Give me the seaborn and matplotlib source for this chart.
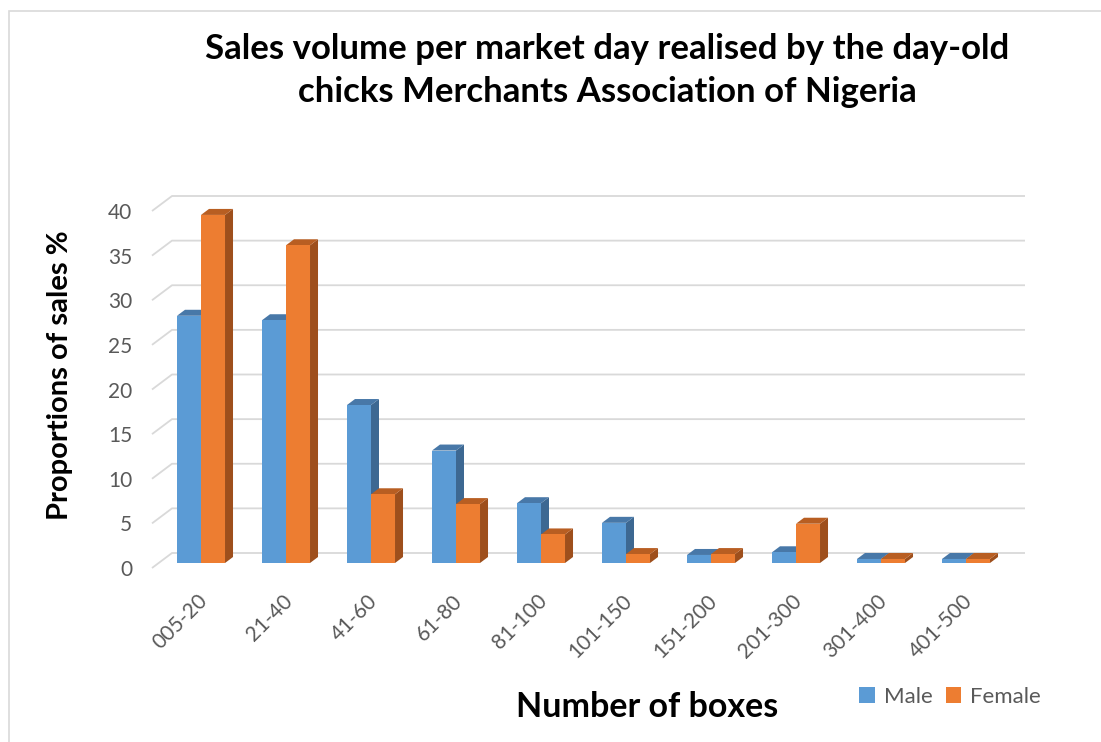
"""Volumen de ventas por dia de mercado (cajas de pollitos), Male vs Female.

Barras con aspecto 3D al estilo Excel: caras frontales con seaborn,
caras laterales/superiores anadidas a partir de los rectangulos del barplot.
"""
import matplotlib
matplotlib.use("Agg")
import matplotlib.pyplot as plt
import matplotlib.transforms as mtransforms
from matplotlib.patches import Polygon, Rectangle
import pandas as pd
import seaborn as sns

CATEGORIAS = ["005-20", "21-40", "41-60", "61-80", "81-100",
              "101-150", "151-200", "201-300", "301-400", "401-500"]
MALE = [27.7, 27.2, 17.7, 12.6, 6.7, 4.5, 0.9, 1.2, 0.45, 0.45]
FEMALE = [39.0, 35.6, 7.7, 6.6, 3.2, 1.0, 1.0, 4.4, 0.45, 0.45]
SERIES = ["Male", "Female"]
Y_TICKS = [0, 5, 10, 15, 20, 25, 30, 35, 40]

TITULO = ("Sales volume per market day realised by the day-old\n"
          "chicks Merchants Association of Nigeria")

COLOR_FRENTE = {"Male": "#5B9BD5", "Female": "#ED7D31"}
COLOR_LADO = {"Male": "#3D6892", "Female": "#9E4F1C"}
COLOR_TECHO = {"Male": "#4878A8", "Female": "#B85E22"}
GRIS_TEXTO = "#595959"
GRIS_REJILLA = "#D9D9D9"

W, H = 1101, 742
# geometria del plano frontal en pixeles
X0_PX, X1_PX = 158.5, 1008.5
Y0_PX, Y40_PX = 563, 206
PX_X = (X1_PX - X0_PX) / len(CATEGORIAS)
PX_Y = (Y0_PX - Y40_PX) / 40.0


def main():
    sns.set_style("white")
    plt.rcParams["font.family"] = ["Lato", "DejaVu Sans"]

    datos = pd.DataFrame({
        "categoria": CATEGORIAS * 2,
        "valor": MALE + FEMALE,
        "sexo": ["Male"] * len(MALE) + ["Female"] * len(FEMALE),
    })

    fig = plt.figure(figsize=(W / 100, H / 100), dpi=100)
    ax = fig.add_axes([X0_PX / W, 1 - Y0_PX / H,
                       (X1_PX - X0_PX) / W, (Y0_PX - Y40_PX) / H])

    sns.barplot(
        data=datos, x="categoria", y="valor", hue="sexo",
        hue_order=SERIES, palette=COLOR_FRENTE, width=0.565,
        saturation=1, errorbar=None, linewidth=0, ax=ax,
    )
    handles, labels = ax.get_legend_handles_labels()
    if ax.get_legend() is not None:
        ax.get_legend().remove()

    ax.set_xlim(-0.5, len(CATEGORIAS) - 0.5)
    ax.set_ylim(0, 40)
    for lado in ax.spines.values():
        lado.set_visible(False)

    # caras 3D de cada barra
    dx = 8 / PX_X
    dy = 6 / PX_Y
    n = len(CATEGORIAS)
    for i, barra in enumerate(ax.patches[:2 * n]):
        serie = SERIES[i // n]
        x, w, h = barra.get_x(), barra.get_width(), barra.get_height()
        barra.set_zorder(3)
        lado = Polygon([(x + w, 0), (x + w + dx, dy),
                        (x + w + dx, h + dy), (x + w, h)],
                       closed=True, fc=COLOR_LADO[serie], ec="none",
                       zorder=2, clip_on=False)
        techo = Polygon([(x, h), (x + w, h), (x + w + dx, h + dy),
                         (x + dx, h + dy)],
                        closed=True, fc=COLOR_TECHO[serie], ec="none",
                        zorder=2, clip_on=False)
        ax.add_patch(lado)
        ax.add_patch(techo)

    # rejilla en el plano trasero con su tramo inclinado
    gx0 = -0.5 + (172 - X0_PX) / PX_X
    gx1 = -0.5 + (1025 - X0_PX) / PX_X
    fx = -0.5 + (152 - X0_PX) / PX_X
    for v in Y_TICKS:
        ax.plot([fx, gx0, gx1], [v - 5 / PX_Y, v + 10 / PX_Y, v + 10 / PX_Y],
                color=GRIS_REJILLA, lw=1.3, zorder=0, clip_on=False,
                solid_capstyle="butt")

    ax.set_yticks(Y_TICKS)
    ax.set_yticklabels([str(v) for v in Y_TICKS])
    ax.tick_params(axis="y", length=0, pad=19, labelsize=15,
                   labelcolor=GRIS_TEXTO)
    desplazamiento = mtransforms.ScaledTranslation(0, -5 / 100,
                                                   fig.dpi_scale_trans)
    for etiqueta in ax.get_yticklabels():
        etiqueta.set_transform(etiqueta.get_transform() + desplazamiento)

    ax.set_xticks(range(n))
    ax.set_xticklabels(CATEGORIAS, rotation=45, ha="right",
                       rotation_mode="anchor")
    ax.tick_params(axis="x", length=0, pad=20, labelsize=15,
                   labelcolor=GRIS_TEXTO)
    desplazamiento_x = mtransforms.ScaledTranslation(-4 / 100, 0,
                                                     fig.dpi_scale_trans)
    for etiqueta in ax.get_xticklabels():
        etiqueta.set_transform(etiqueta.get_transform() + desplazamiento_x)
    ax.set_xlabel("")
    ax.set_ylabel("")

    fig.text(607 / W, 1 - 70.5 / H, TITULO, ha="center", va="center",
             fontsize=25, fontweight="bold", color="black",
             linespacing=1.4)
    fig.text(60 / W, 1 - 375 / H, "Proportions of sales %", rotation=90,
             ha="center", va="center", fontsize=21, fontweight="bold",
             color="black")
    fig.text(647 / W, 1 - 707 / H, "Number of boxes", ha="center",
             va="center", fontsize=24.5, fontweight="bold", color="black")

    fig.legend(handles, labels, loc="center",
               bbox_to_anchor=(950 / W, 1 - 697 / H), ncol=2,
               frameon=False, fontsize=16, labelcolor=GRIS_TEXTO,
               handlelength=0.7, handleheight=0.7, handletextpad=0.4,
               columnspacing=0.6)

    fig.patches.append(Rectangle(
        (8.5 / W, -0.01), 1.02, 1 - 10.5 / H + 0.01,
        transform=fig.transFigure, fill=False, ec=GRIS_REJILLA, lw=1.2,
    ))

    fig.savefig("out.png", dpi=100)
    plt.close(fig)


if __name__ == "__main__":
    main()
